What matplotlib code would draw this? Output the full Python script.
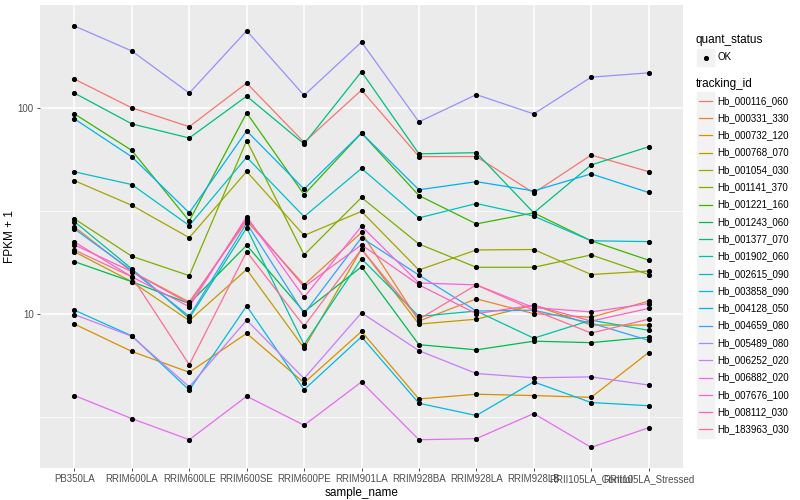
import numpy as np
import matplotlib.pyplot as plt
from matplotlib.patches import Rectangle

plt.rcParams['font.family'] = ['Liberation Sans', 'DejaVu Sans']

samples = ["PB350LA", "RRIM600LA", "RRIM600LE", "RRIM600SE", "RRIM600PE", "RRIM901LA",
           "RRIM928BA", "RRIM928LA", "RRIM928LB", "RRII105LA_Control", "RRII105LA_Stressed"]

tracking_ids = ["Hb_000116_060", "Hb_000331_330", "Hb_000732_120", "Hb_000768_070",
                "Hb_001054_030", "Hb_001141_370", "Hb_001221_160", "Hb_001243_060",
                "Hb_001377_070", "Hb_001902_060", "Hb_002615_090", "Hb_003858_090",
                "Hb_004128_050", "Hb_004659_080", "Hb_005489_080", "Hb_006252_020",
                "Hb_006882_020", "Hb_007676_100", "Hb_008112_030", "Hb_183963_030"]

colors = ["#F8766D", "#EA8331", "#D89000", "#C09B00", "#A3A500", "#7CAE00", "#39B600",
          "#00BB4E", "#00BF7D", "#00C1A3", "#00BFC4", "#00BAE0", "#00B0F6", "#35A2FF",
          "#9590FF", "#C77CFF", "#E76BF3", "#FA62DB", "#FF62BC", "#FF6C91"]

# FPKM + 1 per gene, one value per sample
hb_000116_060 = [138, 100, 81, 132, 68, 122, 58, 58, 38.6, 59, 49]
hb_000331_330 = [26.4, 16.0, 11.4, 28.2, 13.8, 24.8, 9.2, 11.8, 10.0, 9.6, 11.5]
hb_000732_120 = [8.9, 6.55, 5.19, 8.02, 4.61, 8.2, 3.85, 4.06, 4.0, 3.92, 6.47]
hb_000768_070 = [20.0, 14.3, 9.25, 16.4, 6.8, 20.6, 8.9, 9.4, 11.0, 8.8, 8.8]
hb_001054_030 = [44.3, 33.6, 23.4, 49.1, 24.0, 31.4, 16.3, 20.4, 20.5, 15.5, 16.1]
hb_001141_370 = [28.9, 19.0, 15.3, 69.4, 19.3, 36.7, 21.8, 16.8, 16.8, 19.3, 15.5]
hb_001221_160 = [93.5, 62.1, 28.2, 94.6, 37.9, 75.5, 37.5, 27.3, 30.9, 22.6, 18.2]
hb_001243_060 = [17.9, 14.3, 11.2, 21.5, 10.2, 16.9, 7.07, 6.67, 7.35, 7.23, 7.68]
hb_001377_070 = [118, 83.6, 71.4, 114, 66.8, 150, 59.8, 60.6, 30.9, 52.8, 64.7]
hb_001902_060 = [28.0, 16.5, 9.5, 26.1, 7.07, 18.5, 9.7, 10.3, 7.6, 9.3, 8.3]
hb_002615_090 = [48.9, 42.4, 26.8, 57.6, 29.6, 50.8, 29.2, 34.3, 29.8, 22.6, 22.4]
hb_003858_090 = [10.4, 7.8, 4.25, 10.9, 4.27, 7.72, 3.67, 3.2, 4.66, 3.7, 3.57]
hb_004128_050 = [88.4, 57.8, 30.9, 77.3, 40.3, 75.5, 40, 43.8, 39.5, 47.8, 38.8]
hb_004659_080 = [25.8, 16.2, 9.7, 27.5, 10.0, 23.4, 15.4, 10.3, 10.4, 9.0, 7.42]
hb_005489_080 = [250, 189, 118, 237, 115, 209, 85.5, 116, 93.5, 141, 148]
hb_006252_020 = [9.9, 7.76, 4.41, 9.3, 4.84, 10.1, 6.61, 5.12, 4.88, 4.93, 4.5]
hb_006882_020 = [4.0, 3.09, 2.44, 3.97, 2.87, 4.66, 2.44, 2.47, 3.27, 2.24, 2.79]
hb_007676_100 = [22.3, 15.1, 10.8, 29.6, 12.0, 26.6, 14.1, 13.8, 10.7, 10.2, 11.2]
hb_008112_030 = [21.6, 16.0, 11.2, 28.9, 13.5, 21.6, 13.8, 10.0, 11.0, 9.2, 10.6]
hb_183963_030 = [20.4, 15.1, 5.65, 20.0, 8.7, 20.6, 9.4, 13.8, 10.4, 8.05, 9.4]

series = [hb_000116_060, hb_000331_330, hb_000732_120, hb_000768_070, hb_001054_030,
          hb_001141_370, hb_001221_160, hb_001243_060, hb_001377_070, hb_001902_060,
          hb_002615_090, hb_003858_090, hb_004128_050, hb_004659_080, hb_005489_080,
          hb_006252_020, hb_006882_020, hb_007676_100, hb_008112_030, hb_183963_030]

fig = plt.figure(figsize=(8, 5), dpi=100)
ax = fig.add_axes([40 / 800, 32 / 500, 643 / 800, 463 / 500])
ax.set_facecolor("#EBEBEB")

x = np.arange(len(samples))
for vals, col in zip(series, colors):
    ax.plot(x, vals, color=col, lw=0.9, zorder=2)
for vals in series:
    ax.plot(x, vals, "o", color="black", ms=2.7, zorder=3)

ax.set_yscale("log")
ax.set_ylim(10 ** 0.25, 10 ** 2.5)
ax.set_xlim(-0.6, len(samples) - 0.4)
ax.set_yticks([10, 100])
ax.set_yticklabels(["10", "100"])
ax.set_yticks([10 ** 0.5, 10 ** 1.5], minor=True)
ax.set_yticklabels([], minor=True)
ax.set_xticks(x)
ax.set_xticklabels(samples)

ax.grid(True, which="major", color="white", lw=1.1, zorder=0)
ax.grid(True, which="minor", axis="y", color="white", lw=0.5, zorder=0)
ax.set_axisbelow(True)
for s in ax.spines.values():
    s.set_visible(False)
ax.tick_params(which="major", length=2.5, width=0.6, color="#333333",
               labelsize=7, labelcolor="#4D4D4D", pad=2)
ax.tick_params(which="minor", length=0)

ax.set_xlabel("sample_name", fontsize=8.5, labelpad=2)
ax.set_ylabel("FPKM + 1", fontsize=8.5, labelpad=1)

# legend drawn in pixel coordinates
lax = fig.add_axes([0, 0, 1, 1])
lax.set_xlim(0, 800)
lax.set_ylim(500, 0)
lax.axis("off")

lax.text(696, 40, "quant_status", fontsize=8.5, va="center", ha="left")
lax.add_patch(Rectangle((697, 49), 17, 17, color="#F2F2F2"))
lax.plot([705.5], [57.5], "o", color="black", ms=2.7)
lax.text(717, 57.5, "OK", fontsize=7, va="center", ha="left")

lax.text(696, 84, "tracking_id", fontsize=8.5, va="center", ha="left")
for i, (name, col) in enumerate(zip(tracking_ids, colors)):
    yc = 100.7 + i * 17.3
    lax.add_patch(Rectangle((697, yc - 8.5), 17, 17, color="#F2F2F2"))
    lax.plot([699, 712], [yc, yc], color=col, lw=0.9)
    lax.text(717, yc, name, fontsize=7, va="center", ha="left")

fig.savefig("out.png", dpi=100)
